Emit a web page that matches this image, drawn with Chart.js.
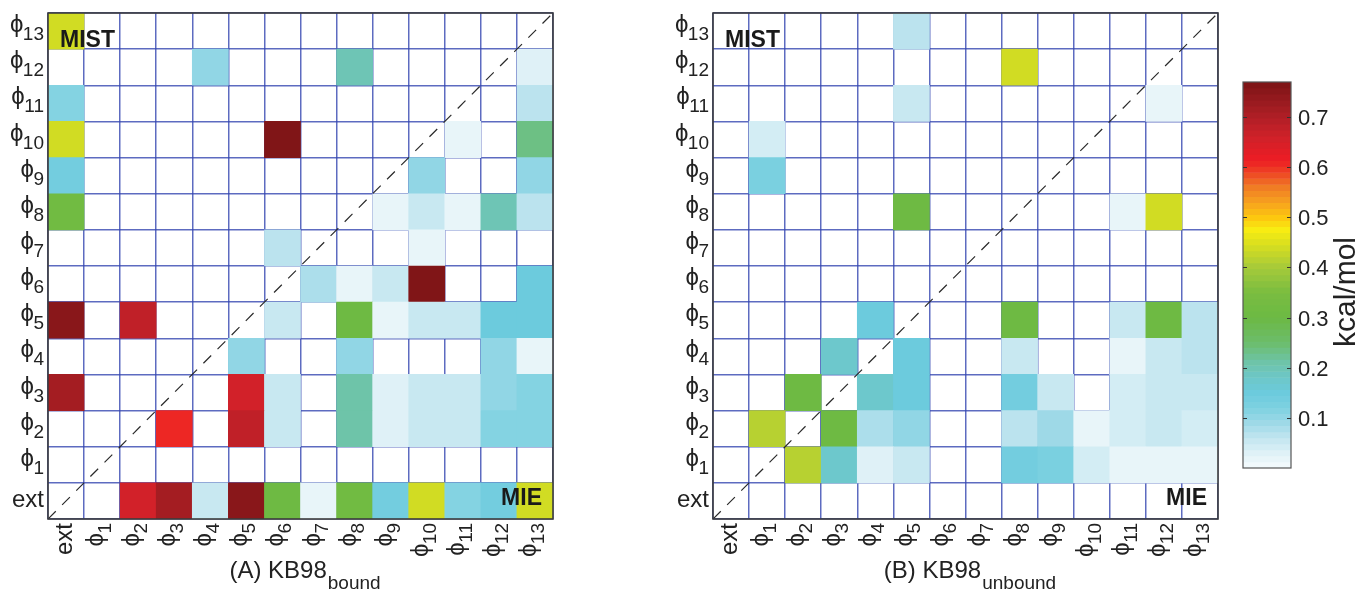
<!DOCTYPE html>
<html>
<head>
<meta charset="utf-8">
<script src="https://cdn.jsdelivr.net/npm/chart.js@4.4.1/dist/chart.umd.min.js"></script>
<style>
  html, body { margin: 0; padding: 0; background: #fff; width: 1358px; height: 593px; overflow: hidden; }
  canvas { position: absolute; top: 0; }
  #panelA { left: 0; }
  #panelB { left: 665px; }
  #scaleBar { left: 1200px; }
</style>
</head>
<body>
<canvas id="panelA" width="600" height="593"></canvas>
<canvas id="panelB" width="600" height="593"></canvas>
<canvas id="scaleBar" width="158" height="593"></canvas>
<script>
// Residue/term labels, used for both rows (bottom → top) and columns (left → right)
const axisLabels = ['ext', 'ϕ1', 'ϕ2', 'ϕ3', 'ϕ4', 'ϕ5', 'ϕ6', 'ϕ7', 'ϕ8', 'ϕ9', 'ϕ10', 'ϕ11', 'ϕ12', 'ϕ13'];

// Coupling energies in kcal/mol; one array per row (ext first), columns ext → ϕ13; 0 = empty cell
const boundRows = [
  [0.00, 0, 0.66, 0.72, 0.05, 0.75, 0.31, 0.02, 0.32, 0.14, 0.44, 0.12, 0.14, 0.44], // ext
  [0, 0, 0, 0, 0, 0, 0, 0, 0, 0, 0, 0, 0, 0],                                       // ϕ1
  [0, 0, 0, 0.61, 0, 0.68, 0.05, 0, 0.21, 0.03, 0.05, 0.05, 0.12, 0.12],            // ϕ2
  [0.72, 0, 0, 0, 0, 0.66, 0.05, 0, 0.21, 0.03, 0.05, 0.05, 0.10, 0.12],            // ϕ3
  [0, 0, 0, 0, 0, 0.10, 0, 0, 0.10, 0, 0, 0, 0.10, 0.02],                           // ϕ4
  [0.75, 0, 0.68, 0, 0, 0, 0.05, 0, 0.31, 0.02, 0.06, 0.05, 0.15, 0.15],            // ϕ5
  [0, 0, 0, 0, 0, 0, 0, 0.08, 0.02, 0.05, 0.77, 0, 0, 0.15],                        // ϕ6
  [0, 0, 0, 0, 0, 0, 0.07, 0, 0, 0, 0.02, 0, 0, 0],                                 // ϕ7
  [0.32, 0, 0, 0, 0, 0, 0, 0, 0, 0.02, 0.05, 0.02, 0.20, 0.07],                     // ϕ8
  [0.14, 0, 0, 0, 0, 0, 0, 0, 0, 0, 0.10, 0, 0, 0.10],                              // ϕ9
  [0.44, 0, 0, 0, 0, 0, 0.77, 0, 0, 0, 0, 0.02, 0, 0.24],                           // ϕ10
  [0.12, 0, 0, 0, 0, 0, 0, 0, 0, 0, 0, 0, 0, 0.07],                                 // ϕ11
  [0, 0, 0, 0, 0.10, 0, 0, 0, 0.20, 0, 0, 0, 0, 0.03],                              // ϕ12
  [0.44, 0, 0, 0, 0, 0, 0, 0, 0, 0, 0, 0, 0, 0]                                     // ϕ13
];

const unboundRows = [
  [0, 0, 0, 0, 0, 0, 0, 0, 0, 0, 0, 0, 0, 0],                                       // ext
  [0, 0, 0.41, 0.18, 0.03, 0.05, 0, 0, 0.14, 0.13, 0.04, 0.02, 0.02, 0.02],         // ϕ1
  [0, 0.41, 0, 0.31, 0.08, 0.10, 0, 0, 0.07, 0.09, 0.02, 0.04, 0.05, 0.04],         // ϕ2
  [0, 0, 0.31, 0, 0.18, 0.15, 0, 0, 0.14, 0.05, 0, 0.04, 0.05, 0.06],               // ϕ3
  [0, 0, 0, 0.18, 0, 0.15, 0, 0, 0.05, 0, 0, 0.02, 0.06, 0.07],                     // ϕ4
  [0, 0, 0, 0, 0.15, 0, 0, 0, 0.31, 0, 0, 0.05, 0.31, 0.07],                        // ϕ5
  [0, 0, 0, 0, 0, 0, 0, 0, 0, 0, 0, 0, 0, 0],                                       // ϕ6
  [0, 0, 0, 0, 0, 0, 0, 0, 0, 0, 0, 0, 0, 0],                                       // ϕ7
  [0, 0, 0, 0, 0, 0.31, 0, 0, 0, 0, 0, 0.02, 0.44, 0],                              // ϕ8
  [0, 0.13, 0, 0, 0, 0, 0, 0, 0, 0, 0, 0, 0, 0],                                    // ϕ9
  [0, 0.04, 0, 0, 0, 0, 0, 0, 0, 0, 0, 0, 0, 0],                                    // ϕ10
  [0, 0, 0, 0, 0, 0.05, 0, 0, 0, 0, 0, 0, 0.02, 0],                                 // ϕ11
  [0, 0, 0, 0, 0, 0, 0, 0, 0.44, 0, 0, 0, 0, 0],                                    // ϕ12
  [0, 0, 0, 0, 0, 0.07, 0, 0, 0, 0, 0, 0, 0, 0]                                     // ϕ13
];

// Colour scale
const colorbarTicks = [0.1, 0.2, 0.3, 0.4, 0.5, 0.6, 0.7];
const colorbarMin = 0;
const colorbarMax = 0.77;
const colorLevels = 64;
const cmapStops = [
  [0.000, '#f5fbfd'], [0.030, '#dff1f7'], [0.060, '#c2e6f0'], [0.090, '#9ed9e7'],
  [0.120, '#7ed1e1'], [0.150, '#6ccbdd'], [0.180, '#6dc7c8'], [0.210, '#6ec4aa'],
  [0.250, '#6cbd6c'], [0.300, '#6cb944'], [0.350, '#7abd40'], [0.400, '#a6ca3a'],
  [0.440, '#d2dc22'], [0.475, '#f8ec12'], [0.500, '#fdc70f'], [0.530, '#f6a21f'],
  [0.560, '#f07c24'], [0.590, '#ee4224'], [0.615, '#ed1c24'], [0.660, '#cf2129'],
  [0.700, '#b01f26'], [0.770, '#7b1416']
];

const FONT = '"Liberation Sans", Arial, Helvetica, sans-serif';
const TEXT = '#222';
const GRID_BLUE = 'rgba(52, 70, 176, 0.8)';

function hexToRgb(h) {
  return [parseInt(h.slice(1, 3), 16), parseInt(h.slice(3, 5), 16), parseInt(h.slice(5, 7), 16)];
}
function interpColor(v) {
  if (v <= cmapStops[0][0]) return cmapStops[0][1];
  for (let i = 1; i < cmapStops.length; i++) {
    const [v1, c1] = cmapStops[i];
    if (v <= v1) {
      const [v0, c0] = cmapStops[i - 1];
      const t = (v - v0) / (v1 - v0);
      const a = hexToRgb(c0), b = hexToRgb(c1);
      const m = a.map((x, k) => Math.round(x + (b[k] - x) * t));
      return `rgb(${m[0]},${m[1]},${m[2]})`;
    }
  }
  return cmapStops[cmapStops.length - 1][1];
}
// value → colour of its discrete colormap level
function colorFor(v) {
  const step = (colorbarMax - colorbarMin) / colorLevels;
  const idx = Math.min(colorLevels - 1, Math.max(0, Math.floor((v - colorbarMin) / step)));
  return interpColor(colorbarMin + (idx + 0.5) * step);
}

// Draws "ext" or "ϕ" + subscript number, right-aligned at xRight, centred on cy
function drawTermLabel(ctx, label, xRight, cy) {
  ctx.textAlign = 'left';
  ctx.textBaseline = 'alphabetic';
  if (label.startsWith('ϕ')) {
    const sub = label.slice(1);
    ctx.font = `19px ${FONT}`;
    const subW = ctx.measureText(sub).width;
    ctx.fillText(sub, xRight - subW, cy + 9);
    ctx.font = `24px ${FONT}`;
    const phiW = ctx.measureText('ϕ').width;
    ctx.fillText('ϕ', xRight - subW - phiW + 0.5, cy + 1);
  } else {
    ctx.font = `24px ${FONT}`;
    const w = ctx.measureText(label).width;
    ctx.fillText(label, xRight - w, cy + 6);
  }
}

function makePanelPlugin(titleMain, titleSub) {
  return {
    id: 'panelDecor',
    afterDraw(chart) {
      const ctx = chart.ctx, ca = chart.chartArea;
      const xs = chart.scales.x, ys = chart.scales.y;
      ctx.save();
      // frame
      ctx.strokeStyle = '#3c3c3c';
      ctx.lineWidth = 1.6;
      ctx.strokeRect(ca.left, ca.top, ca.right - ca.left, ca.bottom - ca.top);
      ctx.fillStyle = TEXT;
      // row labels
      axisLabels.forEach((lab, i) => drawTermLabel(ctx, lab, ca.left - 4, ys.getPixelForValue(i)));
      // column labels, rotated to read upwards
      axisLabels.forEach((lab, i) => {
        ctx.save();
        ctx.translate(xs.getPixelForValue(i), ca.bottom + 4);
        ctx.rotate(-Math.PI / 2);
        drawTermLabel(ctx, lab, 0, 0);
        ctx.restore();
      });
      // corner tags
      ctx.font = `bold 23px ${FONT}`;
      ctx.fillStyle = '#1a1a1a';
      ctx.textAlign = 'left';
      ctx.fillText('MIST', ca.left + 12, ca.top + 34);
      ctx.textAlign = 'right';
      ctx.fillText('MIE', ca.right - 11, ca.bottom - 14);
      // panel caption with subscript
      ctx.fillStyle = TEXT;
      ctx.textAlign = 'left';
      ctx.font = `24px ${FONT}`;
      const w1 = ctx.measureText(titleMain).width;
      ctx.font = `19px ${FONT}`;
      const w2 = ctx.measureText(titleSub).width;
      const cx = (ca.left + ca.right) / 2 + 4;
      const x0 = cx - (w1 + w2) / 2;
      ctx.font = `24px ${FONT}`;
      ctx.fillText(titleMain, x0, ca.bottom + 59);
      ctx.font = `19px ${FONT}`;
      ctx.fillText(titleSub, x0 + w1 + 1, ca.bottom + 70);
      ctx.restore();
    }
  };
}

function cellDatasets(rows) {
  return rows.map((vals, r) => ({
    type: 'bar',
    label: axisLabels[r],
    data: vals.map(v => (v > 0 ? [r - 0.5, r + 0.5] : null)),
    backgroundColor: vals.map(v => colorFor(v)),
    borderWidth: 0,
    grouped: false,
    barPercentage: 1,
    categoryPercentage: 1,
    xAxisID: 'x',
    yAxisID: 'y',
    order: 2
  }));
}

const cellBoundaries = axisLabels.map((_, i) => i - 0.5).concat([axisLabels.length - 0.5]);

function makePanel(canvasId, rows, titleMain, titleSub) {
  const n = axisLabels.length;
  return new Chart(document.getElementById(canvasId), {
    type: 'bar',
    data: {
      labels: axisLabels,
      datasets: cellDatasets(rows).concat([{
        type: 'line',
        label: 'diagonal',
        data: [{ x: -0.5, y: -0.5 }, { x: n - 0.5, y: n - 0.5 }],
        xAxisID: 'xd',
        yAxisID: 'y',
        borderColor: '#2a2a2a',
        borderWidth: 1.2,
        borderDash: [11, 9],
        pointRadius: 0,
        fill: false,
        order: 1
      }])
    },
    options: {
      responsive: false,
      animation: false,
      events: [],
      layout: { padding: { left: 48, right: 47, top: 13, bottom: 74 } },
      plugins: { legend: { display: false }, tooltip: { enabled: false } },
      scales: {
        x: {
          type: 'category',
          offset: true,
          z: 1,
          grid: { offset: true, color: GRID_BLUE, lineWidth: 1.5, drawTicks: false },
          border: { display: false },
          ticks: { display: false }
        },
        xd: { type: 'linear', min: -0.5, max: n - 0.5, offset: false, display: false },
        y: {
          type: 'linear',
          min: -0.5,
          max: n - 0.5,
          offset: false,
          z: 1,
          afterBuildTicks: s => { s.ticks = cellBoundaries.map(v => ({ value: v })); },
          grid: { color: GRID_BLUE, lineWidth: 1.5, drawTicks: false },
          border: { display: false },
          ticks: { display: false }
        }
      }
    },
    plugins: [makePanelPlugin(titleMain, titleSub)]
  });
}

makePanel('panelA', boundRows, '(A) KB98', 'bound');
makePanel('panelB', unboundRows, '(B) KB98', 'unbound');

// Colour bar: one floating bar per colormap level
const levelStep = (colorbarMax - colorbarMin) / colorLevels;
const levelBands = Array.from({ length: colorLevels }, (_, i) => ({
  x: 'kcal/mol',
  y: [colorbarMin + i * levelStep, colorbarMin + (i + 1) * levelStep]
}));

new Chart(document.getElementById('scaleBar'), {
  type: 'bar',
  data: {
    labels: ['kcal/mol'],
    datasets: [{
      data: levelBands,
      backgroundColor: levelBands.map(b => interpColor((b.y[0] + b.y[1]) / 2)),
      borderWidth: 0,
      barPercentage: 1,
      categoryPercentage: 1
    }]
  },
  options: {
    responsive: false,
    animation: false,
    events: [],
    layout: { padding: { left: 43, right: 67, top: 82, bottom: 125 } },
    plugins: { legend: { display: false }, tooltip: { enabled: false } },
    scales: {
      x: { display: false, offset: true },
      y: { display: false, min: colorbarMin, max: colorbarMax }
    }
  },
  plugins: [{
    id: 'colorbarDecor',
    afterDraw(chart) {
      const ctx = chart.ctx, ca = chart.chartArea, ys = chart.scales.y;
      ctx.save();
      ctx.strokeStyle = '#555';
      ctx.lineWidth = 1.2;
      ctx.strokeRect(ca.left, ca.top, ca.right - ca.left, ca.bottom - ca.top);
      ctx.strokeStyle = '#333';
      ctx.lineWidth = 1;
      ctx.fillStyle = TEXT;
      ctx.font = `22px ${FONT}`;
      ctx.textAlign = 'left';
      ctx.textBaseline = 'middle';
      colorbarTicks.forEach(t => {
        const y = Math.round(ys.getPixelForValue(t)) + 0.5;
        ctx.beginPath();
        ctx.moveTo(ca.left, y); ctx.lineTo(ca.left + 4, y);
        ctx.moveTo(ca.right - 4, y); ctx.lineTo(ca.right, y);
        ctx.stroke();
        ctx.fillText(t.toFixed(1), ca.right + 7, y + 1);
      });
      ctx.translate(ca.right + 64, 292);
      ctx.rotate(-Math.PI / 2);
      ctx.textAlign = 'center';
      ctx.textBaseline = 'alphabetic';
      ctx.font = `30px ${FONT}`;
      ctx.fillText('kcal/mol', 0, 0);
      ctx.restore();
    }
  }]
});
</script>
</body>
</html>
